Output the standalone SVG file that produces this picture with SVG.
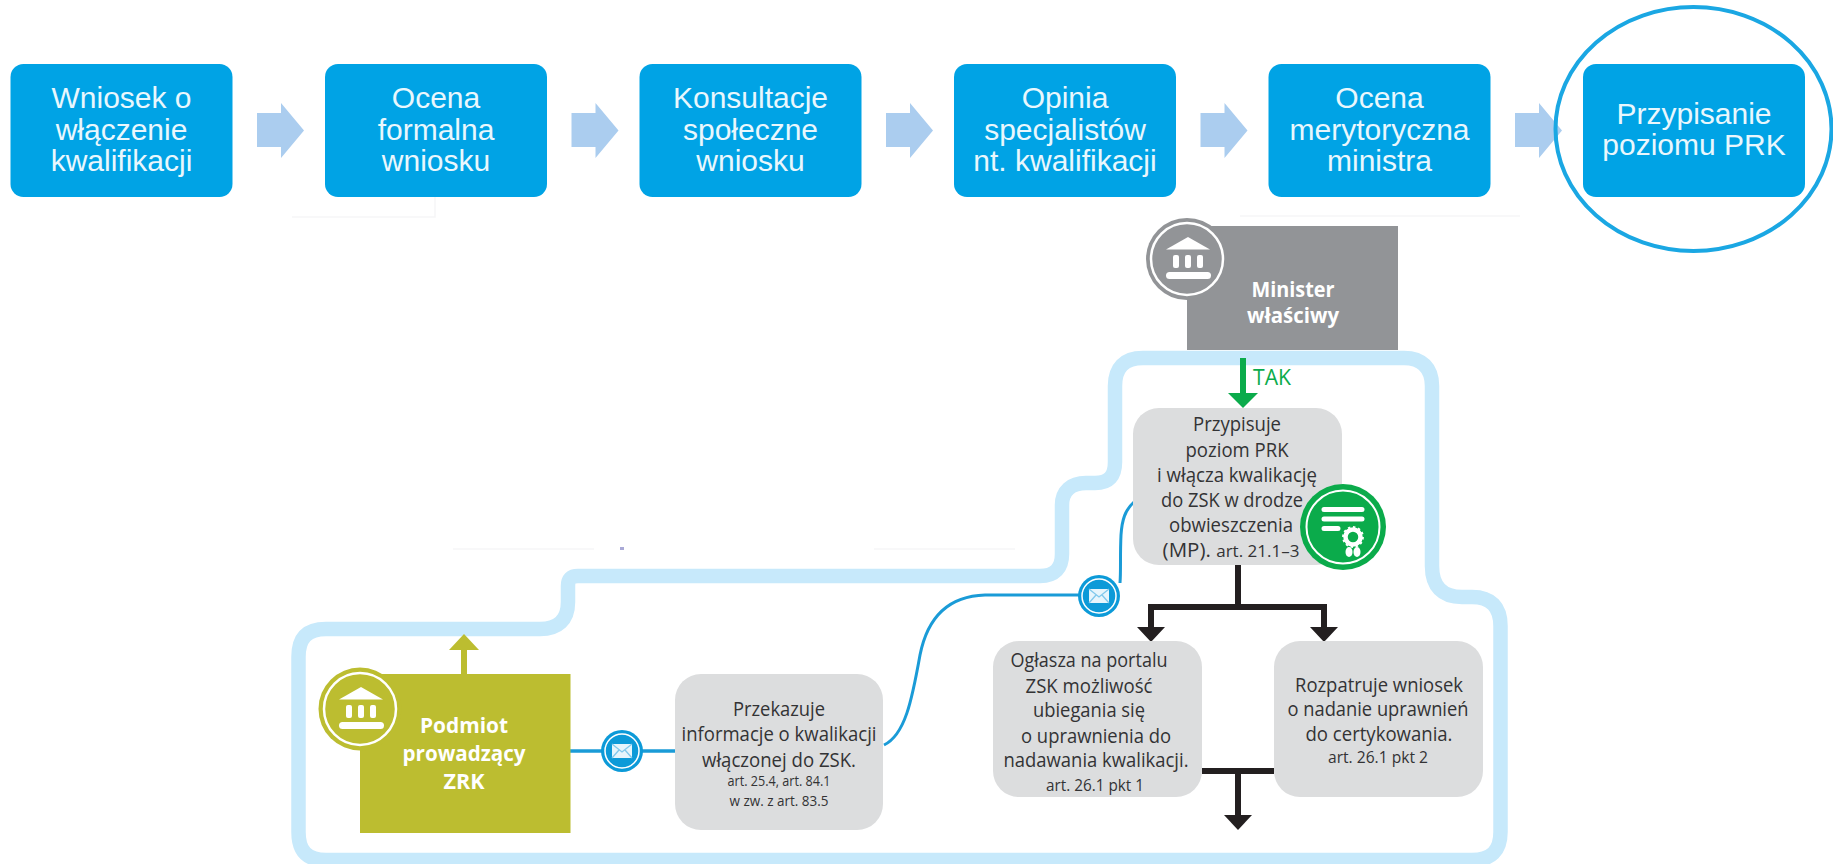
<svg xmlns="http://www.w3.org/2000/svg" width="1833" height="864" viewBox="0 0 1833 864">
<style>
.step{fill:#00a3e5}
.st{font:30px "Liberation Sans",Arial,sans-serif;fill:#e9f7fd;text-anchor:middle}
.gb{fill:#dcddde}
.t{font:20.5px "Open Sans","Noto Sans",sans-serif;fill:#333335;text-anchor:middle}
.s{font-size:17px}
.xs{font-size:15px}
.w{font:bold 21.5px "Open Sans","Noto Sans",sans-serif;fill:#fff;text-anchor:middle}
.tak{font:21px "Open Sans","Noto Sans",sans-serif;fill:#0bab4b}
.band{fill:none;stroke:#c7e9fb;stroke-width:14.5}
.msg{fill:none;stroke:#1a9bd7;stroke-width:3}
.blk{fill:none;stroke:#231f20;stroke-width:6}
.hblk{fill:#231f20}
.fl{fill:#abcdef}
.faint{fill:none;stroke:#f6f6f7;stroke-width:1.5}
.wf{fill:#fff}
</style>
<defs>
<g id="temple">
<path class="wf" d="M-21-9.5 1-22 23-9.5Z"/>
<rect class="wf" x="-14" y="-4" width="6" height="13" rx="2"/>
<rect class="wf" x="-2" y="-4" width="6" height="13" rx="2"/>
<rect class="wf" x="10" y="-4" width="6" height="13" rx="2"/>
<rect class="wf" x="-21" y="13" width="45" height="7" rx="3.5"/>
</g>
<g id="mail">
<circle r="21" fill="#0c9ad8"/>
<circle r="17" fill="none" stroke="#fff" stroke-width="1.5"/>
<rect x="-10" y="-7" width="20" height="14" rx="1" fill="#e6f5fc"/>
<path d="M-10-7 0 1 10-7M-10 7-3-1M10 7 3-1" fill="none" stroke="#7fc8ec" stroke-width="1.3"/>
</g>
</defs>

<g id="faint-lines">
<path class="faint" d="M292 217H435V197M1240 216H1520M453 549H594M874 549H1015"/>
<rect x="620" y="547" width="4" height="3" fill="#a9a9d6"/>
</g>

<g id="boundary">
<path class="band" d="M1115 386C1115 368 1124 358 1143 358H1404C1422 358 1432 368 1432 386V566C1432 586 1442 597 1462 597H1472C1491 597 1500.500 607 1500.500 626V832C1500.500 851 1491 860 1472 860H326C307 860 298.500 851 298.500 832V657C298.500 638 307 629 326 629H540C558 629 568 620 568 602V586C568 579 571 576 578 576H1040C1055 576 1062 568 1062 554V505C1062 491 1071 483 1086 483H1095C1109 483 1115 476 1115 462Z"/>
</g>

<g id="connectors">
<g class="fl">
<path d="M257 113H281V103L304 130.500 281 158V147H257Z"/>
<path d="M571.500 113H595.500V103L618.500 130.500 595.500 158V147H571.500Z"/>
<path d="M886 113H910V103L933 130.500 910 158V147H886Z"/>
<path d="M1200.500 113H1224.500V103L1247.500 130.500 1224.500 158V147H1200.500Z"/>
<path d="M1515 113H1539V103L1562 130.500 1539 158V147H1515Z"/>
</g>
<path class="msg" stroke-width="3.500" style="stroke-width:3.500px" d="M570 751H675"/>
<path class="msg" d="M884 745C905 735 912 700 920 655C928 615 950 596 985 595H1080"/>
<path class="msg" d="M1120 583C1121 570 1120 555 1121 535C1122 520 1125 510 1134 502"/>
<path fill="none" stroke="#0bab4b" stroke-width="6" d="M1243 358V395"/>
<path fill="#0bab4b" d="M1228 393H1258L1243 408Z"/>
<path fill="none" stroke="#bcbd30" stroke-width="6" d="M464 675V648"/>
<path fill="#bcbd30" d="M449 650 464 634 479 650Z"/>
<path class="blk" d="M1238 565V607M1151 630V607H1324V630"/>
<path class="hblk" d="M1137 627H1165L1151 642ZM1310 627H1338L1324 642Z"/>
<path class="blk" d="M1202 771H1274M1238 771V817"/>
<path class="hblk" d="M1224 815H1252L1238 830Z"/>
</g>

<g id="step1"><rect class="step" x="10.500" y="64" width="222" height="133" rx="13"/><text class="st" x="121.500" y="108">Wniosek o</text><text class="st" x="121.500" y="139.500">włączenie</text><text class="st" x="121.500" y="171">kwalifikacji</text></g>
<g id="step2"><rect class="step" x="325" y="64" width="222" height="133" rx="13"/><text class="st" x="436" y="108">Ocena</text><text class="st" x="436" y="139.500">formalna</text><text class="st" x="436" y="171">wniosku</text></g>
<g id="step3"><rect class="step" x="639.500" y="64" width="222" height="133" rx="13"/><text class="st" x="750.500" y="108">Konsultacje</text><text class="st" x="750.500" y="139.500">społeczne</text><text class="st" x="750.500" y="171">wniosku</text></g>
<g id="step4"><rect class="step" x="954" y="64" width="222" height="133" rx="13"/><text class="st" x="1065" y="108">Opinia</text><text class="st" x="1065" y="139.500">specjalistów</text><text class="st" x="1065" y="171">nt. kwalifikacji</text></g>
<g id="step5"><rect class="step" x="1268.500" y="64" width="222" height="133" rx="13"/><text class="st" x="1379.500" y="108">Ocena</text><text class="st" x="1379.500" y="139.500">merytoryczna</text><text class="st" x="1379.500" y="171">ministra</text></g>
<g id="step6"><rect class="step" x="1583" y="64" width="222" height="133" rx="13"/><text class="st" x="1694" y="124">Przypisanie</text><text class="st" x="1694" y="155">poziomu PRK</text><ellipse cx="1693.500" cy="129" rx="138" ry="122" fill="none" stroke="#1aa7e3" stroke-width="4"/></g>

<g id="minister">
<rect x="1187" y="226" width="211" height="124" fill="#929497"/>
<circle cx="1187" cy="259" r="41" fill="#929497"/>
<circle cx="1187" cy="259" r="36" fill="none" stroke="#fff" stroke-width="2.500"/>
<use href="#temple" x="1187" y="259"/>
<text class="w" x="1293" y="297" textLength="83" lengthAdjust="spacingAndGlyphs">Minister</text>
<text class="w" x="1293" y="323" textLength="92" lengthAdjust="spacingAndGlyphs">właściwy</text>
</g>

<g id="tak"><text class="tak" x="1253" y="385" textLength="38" lengthAdjust="spacingAndGlyphs">TAK</text></g>

<g id="przypisuje">
<rect class="gb" x="1133" y="408" width="209" height="157" rx="26"/>
<text class="t" x="1237" y="431" textLength="88" lengthAdjust="spacingAndGlyphs">Przypisuje</text>
<text class="t" x="1237" y="457" textLength="103" lengthAdjust="spacingAndGlyphs">poziom PRK</text>
<text class="t" x="1237" y="482" textLength="160" lengthAdjust="spacingAndGlyphs">i włącza kwalikację</text>
<text class="t" x="1232" y="507" textLength="142" lengthAdjust="spacingAndGlyphs">do ZSK w drodze</text>
<text class="t" x="1231" y="532" textLength="124" lengthAdjust="spacingAndGlyphs">obwieszczenia</text>
<text class="t" x="1231" y="557">(MP). <tspan class="s">art. 21.1–3</tspan></text>
</g>

<g id="cert">
<circle cx="1343" cy="527" r="43" fill="#0bab4b"/>
<circle cx="1343" cy="527" r="36.500" fill="none" stroke="#fff" stroke-width="2"/>
<path d="M1324 509.500H1362M1324 519H1362M1324 528.500H1338" stroke="#fff" stroke-width="5" stroke-linecap="round" fill="none"/>
<circle cx="1353" cy="537" r="7.500" fill="none" stroke="#fff" stroke-width="4.500"/>
<circle cx="1353" cy="537" r="10" fill="none" stroke="#fff" stroke-width="1.800" stroke-dasharray="2.500 2.700"/>
<ellipse cx="1349" cy="552" rx="3.500" ry="5" fill="#fff"/>
<ellipse cx="1357" cy="552" rx="3.500" ry="5" fill="#fff"/>
</g>

<g id="oglasza">
<rect class="gb" x="993" y="641" width="209" height="156" rx="26"/>
<text class="t" x="1089" y="667" textLength="157" lengthAdjust="spacingAndGlyphs">Ogłasza na portalu</text>
<text class="t" x="1089" y="693" textLength="127" lengthAdjust="spacingAndGlyphs">ZSK możliwość</text>
<text class="t" x="1089" y="717" textLength="112" lengthAdjust="spacingAndGlyphs">ubiegania się</text>
<text class="t" x="1096" y="743" textLength="150" lengthAdjust="spacingAndGlyphs">o uprawnienia do</text>
<text class="t" x="1096" y="767" textLength="185" lengthAdjust="spacingAndGlyphs">nadawania kwalikacji.</text>
<text class="t s" x="1095" y="791" textLength="98" lengthAdjust="spacingAndGlyphs">art. 26.1 pkt 1</text>
</g>

<g id="rozpatruje">
<rect class="gb" x="1274" y="641" width="209" height="156" rx="26"/>
<text class="t" x="1379" y="692" textLength="168" lengthAdjust="spacingAndGlyphs">Rozpatruje wniosek</text>
<text class="t" x="1378" y="716" textLength="181" lengthAdjust="spacingAndGlyphs">o nadanie uprawnień</text>
<text class="t" x="1379" y="741" textLength="147" lengthAdjust="spacingAndGlyphs">do certykowania.</text>
<text class="t s" x="1378" y="763" textLength="100" lengthAdjust="spacingAndGlyphs">art. 26.1 pkt 2</text>
</g>

<g id="przekazuje">
<rect class="gb" x="675" y="674" width="208" height="156" rx="26"/>
<text class="t" x="779" y="716" textLength="92" lengthAdjust="spacingAndGlyphs">Przekazuje</text>
<text class="t" x="779" y="741" textLength="195" lengthAdjust="spacingAndGlyphs">informacje o kwalikacji</text>
<text class="t" x="779" y="767" textLength="154" lengthAdjust="spacingAndGlyphs">włączonej do ZSK.</text>
<text class="t xs" x="779" y="786" textLength="103" lengthAdjust="spacingAndGlyphs">art. 25.4, art. 84.1</text>
<text class="t xs" x="779" y="806" textLength="99" lengthAdjust="spacingAndGlyphs">w zw. z art. 83.5</text>
</g>

<g id="podmiot">
<rect x="360" y="674" width="210.500" height="159" fill="#bcbd30"/>
<circle cx="360" cy="709" r="41.500" fill="#bcbd30"/>
<circle cx="360" cy="709" r="36" fill="none" stroke="#fff" stroke-width="2.500"/>
<use href="#temple" x="360" y="709"/>
<text class="w" x="464" y="733" textLength="88" lengthAdjust="spacingAndGlyphs">Podmiot</text>
<text class="w" x="464" y="761" textLength="123" lengthAdjust="spacingAndGlyphs">prowadzący</text>
<text class="w" x="464" y="789" textLength="41" lengthAdjust="spacingAndGlyphs">ZRK</text>
</g>

<g id="mail1"><use href="#mail" x="622" y="751"/></g>
<g id="mail2"><use href="#mail" x="1099" y="596"/></g>
</svg>
